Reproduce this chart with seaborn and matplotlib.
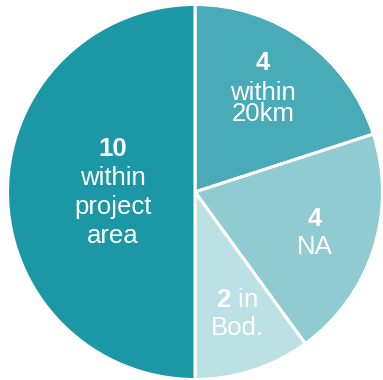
import matplotlib
matplotlib.use("Agg")
import matplotlib.pyplot as plt
import seaborn as sns

sns.set_theme(style="white")
plt.rcParams['font.family'] = ['Liberation Sans', 'DejaVu Sans']
plt.rcParams['mathtext.fontset'] = 'custom'
plt.rcParams['mathtext.rm'] = 'Liberation Sans'
plt.rcParams['mathtext.bf'] = 'Liberation Sans:bold'

# Data (clockwise from 12 o'clock)
categories = ["within 20km", "NA", "in Bod.", "within project area"]
values = [4, 4, 2, 10]
colors = sns.color_palette(["#48ABB7", "#91CBD2", "#BCE1E4", "#1B97A6"])

W, H = 383, 380
fig = plt.figure(figsize=(W / 100, H / 100), dpi=100)
cx, cy, R = 195.0, 188.0, 187.5  # pixel centre (from bottom) and radius
ax = fig.add_axes([(cx - R) / W, (cy - R) / H, 2 * R / W, 2 * R / H])

ax.pie(values, colors=colors, startangle=90, counterclock=False,
       wedgeprops=dict(edgecolor="white", linewidth=2.2))
ax.set_xlim(-1, 1)
ax.set_ylim(-1, 1)
ax.set_aspect("equal")
ax.axis("off")

def px(x, y_top):
    return (x - cx) / R, ((H - y_top) - cy) / R

# label lines: (text, x_px, y_px_from_top, bold)
label_lines = [
    ("10", 113, 149, True), ("within", 113, 178, False),
    ("project", 113, 207, False), ("area", 113, 236, False),
    ("4", 263, 63, True), ("within", 263, 93, False), ("20km", 263, 114, False),
    ("4", 315, 219, True), ("NA", 315, 247, False),
    (r"$\mathbf{2}$ in", 237, 300, False), ("Bod.", 237, 328, False),
]
for txt, x, y, bold in label_lines:
    dx, dy = px(x, y)
    ax.text(dx, dy, txt, ha="center", va="center", color="white",
            fontsize=18.5, fontweight="bold" if bold else "normal")

fig.savefig("out.png", dpi=100, facecolor="white")
